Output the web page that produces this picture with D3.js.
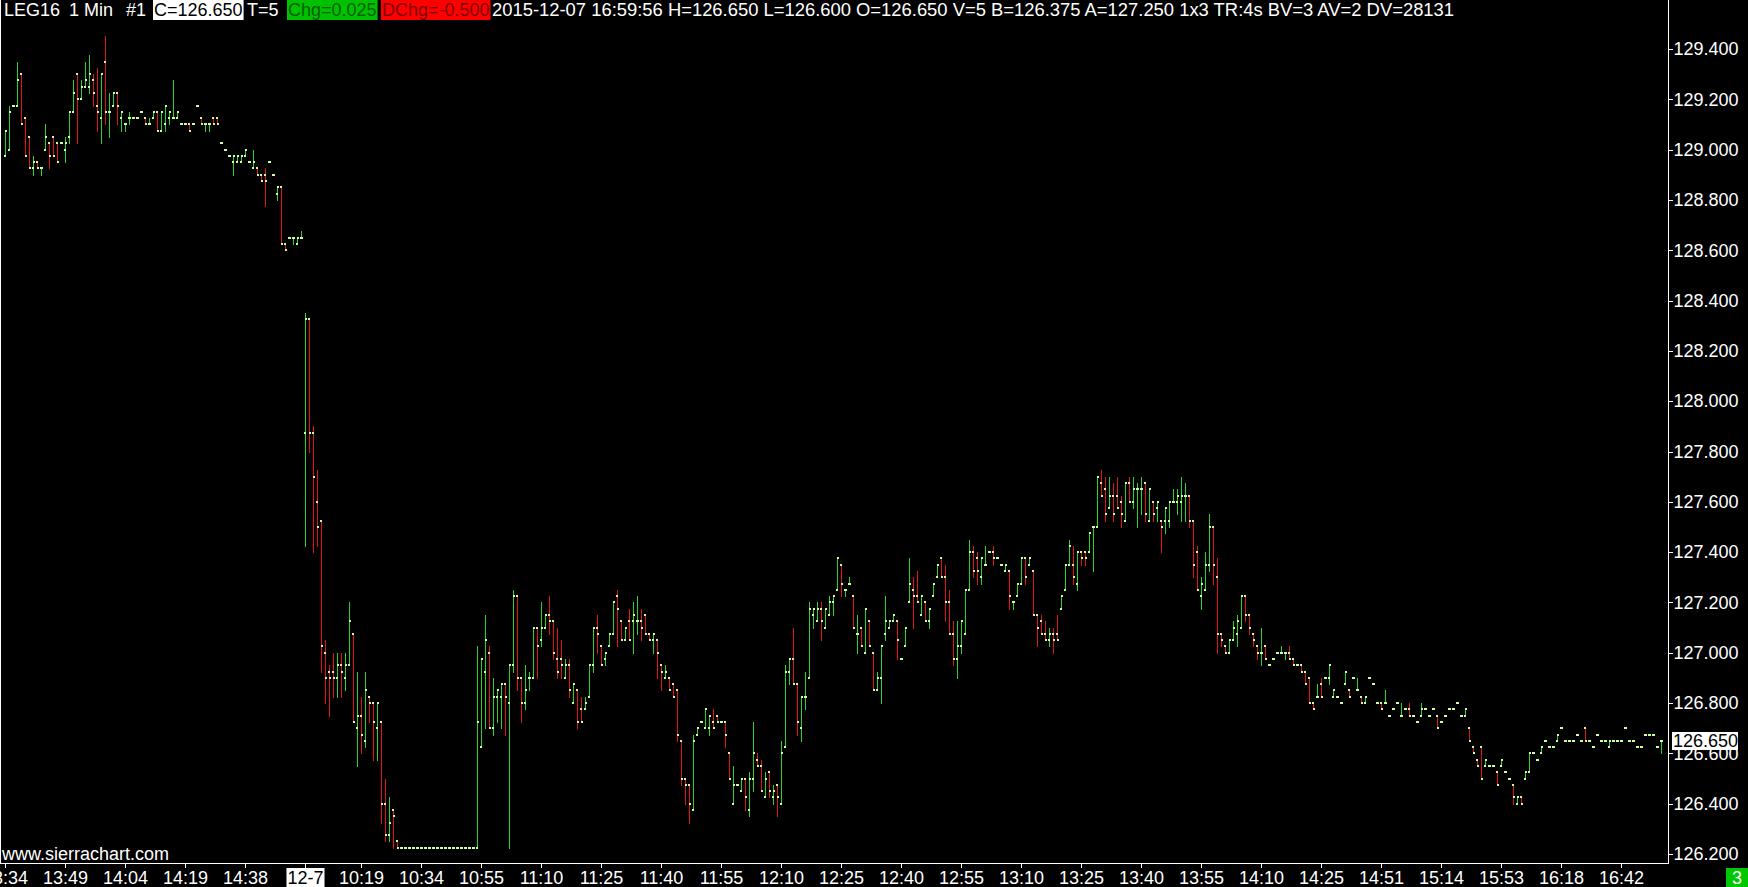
<!DOCTYPE html>
<html>
<head>
<meta charset="utf-8">
<script src="https://cdn.jsdelivr.net/npm/d3@7"></script>
<style>
  html, body { margin: 0; padding: 0; background: #000; }
  svg { display: block; }
  text { font-family: "Liberation Sans", Arial, sans-serif; font-size: 18px; }
</style>
</head>
<body>
<svg id="chart" width="1748" height="887"></svg>
<script>
// one-minute bars (tick size 0.025)
var opens = [
 128.975,129.0,129.175,129.175,129.3,129.125,129.05,128.925,128.95,128.925,129.0,129.025,129.05,129.025,129.025,
 129.0,129.05,129.15,129.3,129.2,129.25,129.25,129.275,129.175,129.125,129.35,129.15,129.175,129.225,129.125,
 129.1,129.125,129.125,129.125,129.15,129.125,129.1,129.125,129.15,129.075,129.1,129.125,129.125,129.125,129.1,
 129.1,129.1,129.1,129.175,129.125,129.1,129.1,129.125,129.125,129.025,129.0,128.975,128.95,128.95,128.95,
 128.975,128.95,128.925,128.925,128.9,128.9,128.95,128.9,128.825,128.85,128.625,128.65,128.65,128.625,128.65,
 127.875,128.325,127.875,127.6,127.525,127.0,126.925,126.925,126.9,126.95,126.9,126.95,127.075,126.7,126.75,
 126.65,126.825,126.8,126.7,126.725,126.4,126.275,126.375,126.25,126.225,126.225,126.225,126.225,126.225,126.225,
 126.225,126.225,126.225,126.225,126.225,126.225,126.225,126.225,126.225,126.225,126.225,126.225,126.225,126.225,126.625,
 126.925,127.0,126.7,126.825,126.825,126.875,126.8,126.95,127.225,126.9,126.8,126.9,126.9,127.1,127.05,
 127.1,127.15,127.125,126.975,126.975,126.9,126.95,126.8,126.85,126.775,126.775,126.825,126.95,127.1,127.025,
 126.975,127.025,127.075,127.225,127.125,127.05,127.125,127.125,127.125,127.125,127.15,127.075,127.05,127.05,126.95,
 126.9,126.9,126.875,126.85,126.65,126.5,126.475,126.375,126.675,126.725,126.7,126.7,126.725,126.75,126.725,
 126.725,126.6,126.4,126.475,126.45,126.5,126.375,126.5,126.575,126.55,126.425,126.525,126.425,126.475,126.4,
 126.625,126.925,126.975,126.875,126.7,126.825,126.9,127.15,127.125,127.175,127.1,127.15,127.2,127.25,127.35,
 127.25,127.275,127.225,127.075,127.1,127.0,127.125,127.0,126.85,126.9,127.075,127.1,127.125,127.125,126.975,
 127.025,127.2,127.25,127.225,127.15,127.2,127.125,127.225,127.3,127.375,127.3,127.2,127.075,126.975,127.025,
 127.075,127.25,127.4,127.375,127.3,127.35,127.4,127.4,127.375,127.35,127.325,127.325,127.2,127.225,127.275,
 127.375,127.35,127.325,127.15,127.125,127.075,127.05,127.075,127.075,127.175,127.25,127.35,127.35,127.275,127.4,
 127.4,127.4,127.5,127.5,127.675,127.65,127.575,127.625,127.625,127.6,127.525,127.675,127.6,127.65,127.65,
 127.675,127.525,127.6,127.575,127.525,127.525,127.525,127.6,127.6,127.6,127.625,127.625,127.525,127.4,127.225,
 127.25,127.35,127.5,127.3,127.075,127.025,127.0,127.05,127.075,127.1,127.225,127.15,127.075,127.025,127.0,
 127.025,126.95,126.975,127.0,127.0,127.0,127.0,126.975,126.95,126.95,126.925,126.9,126.8,126.825,126.875,
 126.9,126.9,126.825,126.825,126.8,126.875,126.85,126.9,126.85,126.825,126.8,126.9,126.875,126.8,126.8,
 126.8,126.75,126.775,126.8,126.75,126.775,126.775,126.75,126.725,126.75,126.775,126.75,126.775,126.75,126.725,
 126.75,126.775,126.775,126.8,126.75,126.75,126.7,126.625,126.575,126.625,126.55,126.55,126.55,126.525,126.55,
 126.525,126.5,126.475,126.4,126.425,126.5,126.525,126.6,126.575,126.6,126.65,126.625,126.625,126.65,126.7,
 126.65,126.65,126.65,126.675,126.65,126.7,126.65,126.625,126.675,126.65,126.65,126.625,126.65,126.65,126.65,
 126.7,126.65,126.65,126.625,126.625,126.675,126.675,126.675,126.625,126.65
];
var highs = [
 129.075,129.175,129.175,129.35,129.3,129.125,129.05,128.975,128.95,128.925,129.1,129.025,129.05,129.025,129.025,
 129.05,129.15,129.275,129.3,129.275,129.35,129.375,129.3,129.325,129.3,129.45,129.225,129.225,129.225,129.15,
 129.1,129.15,129.125,129.125,129.15,129.125,129.125,129.15,129.15,129.15,129.175,129.15,129.275,129.15,129.1,
 129.1,129.1,129.1,129.175,129.125,129.1,129.1,129.125,129.125,129.025,129.0,128.975,128.975,128.975,128.975,
 129.0,128.95,129.0,128.925,128.9,128.925,128.95,128.9,128.85,128.85,128.625,128.65,128.65,128.65,128.675,
 128.35,128.325,127.9,127.725,127.525,127.05,126.95,127.0,127.0,127.0,127.0,127.2,127.075,126.925,126.825,
 126.925,126.825,126.8,126.8,126.725,126.5,126.425,126.375,126.25,126.225,126.225,126.225,126.225,126.225,126.225,
 126.225,126.225,126.225,126.225,126.225,126.225,126.225,126.225,126.225,126.225,126.225,126.225,126.225,127.025,126.975,
 127.15,127.025,126.9,126.85,126.875,126.875,126.95,127.25,127.225,126.9,126.95,126.925,127.1,127.1,127.2,
 127.15,127.225,127.125,127.1,127.05,126.975,126.975,126.875,126.85,126.825,126.825,126.95,127.1,127.15,127.025,
 127.0,127.075,127.2,127.25,127.125,127.1,127.175,127.2,127.225,127.175,127.15,127.075,127.075,127.05,126.95,
 126.95,126.9,126.875,126.85,126.65,126.5,126.475,126.675,126.7,126.725,126.775,126.75,126.775,126.75,126.725,
 126.725,126.6,126.55,126.475,126.5,126.5,126.525,126.725,126.6,126.575,126.525,126.525,126.475,126.475,126.65,
 126.95,126.975,127.1,126.875,126.825,126.925,127.2,127.175,127.2,127.2,127.175,127.225,127.225,127.375,127.35,
 127.25,127.3,127.225,127.15,127.1,127.175,127.125,127.0,126.925,127.025,127.225,127.125,127.15,127.125,126.975,
 127.1,127.375,127.3,127.325,127.225,127.2,127.175,127.275,127.35,127.375,127.35,127.25,127.125,127.125,127.125,
 127.25,127.45,127.425,127.4,127.375,127.425,127.4,127.425,127.375,127.35,127.35,127.325,127.2,127.275,127.375,
 127.375,127.375,127.325,127.15,127.15,127.125,127.1,127.1,127.15,127.225,127.35,127.45,127.425,127.4,127.4,
 127.4,127.475,127.5,127.7,127.725,127.7,127.7,127.675,127.7,127.625,127.675,127.7,127.7,127.675,127.7,
 127.675,127.65,127.6,127.6,127.525,127.575,127.6,127.65,127.65,127.7,127.675,127.625,127.525,127.425,127.3,
 127.4,127.55,127.5,127.375,127.075,127.025,127.05,127.125,127.15,127.225,127.225,127.15,127.075,127.025,127.1,
 127.025,126.95,126.975,127.0,127.025,127.0,127.025,126.975,126.95,126.95,126.925,126.9,126.8,126.875,126.9,
 126.9,126.95,126.85,126.825,126.8,126.925,126.85,126.9,126.9,126.825,126.825,126.9,126.875,126.8,126.8,
 126.85,126.75,126.775,126.8,126.8,126.775,126.8,126.75,126.725,126.8,126.775,126.75,126.775,126.75,126.725,
 126.75,126.775,126.775,126.8,126.75,126.775,126.7,126.625,126.575,126.625,126.575,126.55,126.55,126.525,126.575,
 126.525,126.5,126.475,126.425,126.425,126.525,126.6,126.6,126.575,126.625,126.65,126.625,126.625,126.675,126.7,
 126.65,126.65,126.65,126.675,126.65,126.7,126.65,126.625,126.675,126.65,126.65,126.65,126.65,126.65,126.65,
 126.7,126.65,126.65,126.625,126.625,126.675,126.675,126.675,126.625,126.65
];
var lows = [
 128.975,129.0,129.175,129.175,129.1,128.975,128.925,128.9,128.925,128.9,129.0,128.925,128.975,128.95,129.025,
 128.95,129.025,129.15,129.025,129.2,129.25,129.225,129.175,129.075,129.025,129.1,129.05,129.175,129.1,129.075,
 129.075,129.1,129.125,129.125,129.15,129.1,129.1,129.125,129.075,129.075,129.075,129.1,129.125,129.125,129.1,
 129.1,129.075,129.1,129.175,129.1,129.075,129.075,129.1,129.1,129.025,129.0,128.975,128.9,128.95,128.95,
 128.975,128.95,128.925,128.9,128.875,128.775,128.95,128.9,128.8,128.625,128.6,128.65,128.625,128.625,128.65,
 127.425,127.8,127.4,127.425,126.925,126.8,126.75,126.825,126.825,126.825,126.85,126.95,126.725,126.55,126.6,
 126.625,126.725,126.575,126.575,126.325,126.25,126.25,126.225,126.225,126.225,126.225,126.225,126.225,126.225,126.225,
 126.225,126.225,126.225,126.225,126.225,126.225,126.225,126.225,126.225,126.225,126.225,126.225,126.225,126.225,126.625,
 126.7,126.7,126.675,126.725,126.7,126.675,126.225,126.925,126.85,126.725,126.775,126.85,126.9,126.9,127.025,
 127.1,127.075,126.975,126.9,126.9,126.9,126.825,126.8,126.7,126.725,126.775,126.825,126.925,127.0,126.95,
 126.95,127.025,127.075,127.025,127.05,127.05,127.05,127.0,127.075,127.05,127.075,127.05,127.0,126.9,126.85,
 126.9,126.85,126.825,126.65,126.475,126.4,126.325,126.375,126.675,126.725,126.7,126.675,126.7,126.725,126.725,
 126.625,126.5,126.4,126.475,126.45,126.375,126.35,126.45,126.55,126.45,126.425,126.425,126.4,126.35,126.4,
 126.625,126.875,126.875,126.675,126.65,126.775,126.9,127.1,127.125,127.05,127.1,127.15,127.15,127.25,127.225,
 127.225,127.275,127.1,127.0,127.025,127.0,127.025,126.85,126.85,126.8,127.05,127.1,127.125,126.975,126.975,
 127.025,127.2,127.1,127.2,127.15,127.125,127.1,127.225,127.3,127.3,127.125,127.075,126.95,126.9,127.0,
 127.075,127.25,127.3,127.275,127.275,127.35,127.4,127.35,127.375,127.35,127.325,127.175,127.175,127.225,127.275,
 127.275,127.35,127.15,127.025,127.075,127.05,127.025,127.0,127.05,127.175,127.25,127.35,127.275,127.25,127.35,
 127.35,127.4,127.325,127.5,127.625,127.525,127.575,127.525,127.575,127.5,127.525,127.6,127.575,127.5,127.55,
 127.525,127.525,127.525,127.525,127.4,127.475,127.5,127.6,127.55,127.525,127.525,127.5,127.3,127.25,127.175,
 127.25,127.325,127.275,127.0,127.025,127.0,127.0,127.05,127.025,127.1,127.125,127.075,127.025,126.975,126.95,
 126.975,126.95,126.975,127.0,127.0,126.975,126.975,126.95,126.95,126.925,126.875,126.8,126.775,126.825,126.825,
 126.9,126.875,126.825,126.825,126.8,126.875,126.825,126.9,126.85,126.8,126.8,126.9,126.875,126.8,126.775,
 126.8,126.75,126.775,126.8,126.75,126.775,126.75,126.75,126.725,126.75,126.775,126.75,126.775,126.7,126.725,
 126.75,126.775,126.775,126.8,126.75,126.75,126.65,126.6,126.55,126.5,126.55,126.55,126.55,126.475,126.55,
 126.525,126.5,126.4,126.4,126.4,126.5,126.525,126.6,126.575,126.6,126.65,126.625,126.625,126.65,126.7,
 126.65,126.65,126.65,126.675,126.65,126.65,126.65,126.625,126.675,126.65,126.65,126.625,126.65,126.65,126.65,
 126.7,126.65,126.65,126.625,126.625,126.675,126.675,126.675,126.625,126.6
];
var closes = [
 129.075,129.15,129.175,129.275,129.1,128.975,128.925,128.95,128.925,128.925,129.05,128.975,128.975,128.95,129.025,
 129.025,129.15,129.225,129.2,129.25,129.275,129.3,129.225,129.15,129.3,129.15,129.15,129.225,129.175,129.15,
 129.1,129.125,129.125,129.125,129.15,129.1,129.1,129.15,129.075,129.15,129.175,129.15,129.125,129.15,129.1,
 129.1,129.075,129.1,129.175,129.1,129.1,129.1,129.1,129.1,129.025,129.0,128.975,128.975,128.975,128.975,
 129.0,128.95,128.95,128.9,128.875,128.875,128.95,128.9,128.85,128.625,128.6,128.65,128.65,128.65,128.65,
 128.325,127.875,127.7,127.5,127.025,126.9,126.9,126.9,126.95,126.925,126.95,127.125,126.725,126.75,126.675,
 126.85,126.8,126.725,126.8,126.4,126.275,126.325,126.35,126.225,126.225,126.225,126.225,126.225,126.225,126.225,
 126.225,126.225,126.225,126.225,126.225,126.225,126.225,126.225,126.225,126.225,126.225,126.225,126.225,126.725,126.975,
 127.05,126.7,126.825,126.85,126.875,126.825,126.95,127.225,126.9,126.8,126.85,126.9,127.1,127.025,127.1,
 127.15,127.125,127.0,126.925,126.95,126.95,126.85,126.875,126.725,126.725,126.8,126.95,127.1,127.075,126.95,
 127.0,127.075,127.2,127.175,127.05,127.1,127.05,127.15,127.125,127.1,127.075,127.05,127.075,127.0,126.925,
 126.925,126.85,126.825,126.675,126.5,126.475,126.4,126.65,126.7,126.725,126.775,126.75,126.7,126.725,126.725,
 126.675,126.5,126.475,126.475,126.5,126.425,126.5,126.6,126.55,126.45,126.5,126.45,126.45,126.425,126.6,
 126.925,126.975,126.875,126.725,126.825,126.825,127.175,127.175,127.175,127.125,127.175,127.2,127.225,127.375,127.275,
 127.25,127.275,127.1,127.075,127.025,127.175,127.025,126.85,126.9,127.025,127.125,127.125,127.15,127.05,126.975,
 127.1,127.275,127.225,127.2,127.225,127.125,127.175,127.275,127.35,127.3,127.2,127.075,126.975,127.025,127.125,
 127.25,127.4,127.325,127.325,127.375,127.35,127.4,127.375,127.375,127.35,127.35,127.225,127.2,127.275,127.375,
 127.3,127.375,127.15,127.1,127.075,127.05,127.075,127.05,127.05,127.225,127.35,127.425,127.3,127.4,127.375,
 127.375,127.475,127.5,127.7,127.625,127.55,127.625,127.55,127.575,127.55,127.675,127.6,127.65,127.65,127.65,
 127.55,127.65,127.55,127.6,127.5,127.575,127.6,127.6,127.625,127.625,127.625,127.525,127.35,127.25,127.275,
 127.35,127.5,127.35,127.075,127.05,127.0,127.05,127.1,127.125,127.225,127.15,127.1,127.05,127.0,127.0,
 126.975,126.95,126.975,127.0,127.0,127.0,126.975,126.95,126.95,126.925,126.875,126.8,126.775,126.825,126.825,
 126.9,126.95,126.85,126.825,126.8,126.925,126.825,126.9,126.85,126.8,126.825,126.9,126.875,126.8,126.775,
 126.8,126.75,126.775,126.8,126.75,126.775,126.75,126.75,126.725,126.775,126.775,126.75,126.775,126.7,126.725,
 126.75,126.775,126.775,126.8,126.75,126.775,126.65,126.6,126.55,126.5,126.575,126.55,126.55,126.475,126.575,
 126.525,126.5,126.425,126.425,126.4,126.525,126.6,126.6,126.575,126.625,126.65,126.625,126.625,126.675,126.7,
 126.65,126.65,126.65,126.675,126.65,126.65,126.65,126.625,126.675,126.65,126.65,126.65,126.65,126.65,126.65,
 126.7,126.65,126.65,126.625,126.625,126.675,126.675,126.675,126.625,126.65
];

// time axis labels, one every 15 bars (the session break shifts by one)
var timeTickBars = [0,15,30,45,60,75,89,104,119,134,149,164,179,194,209,224,239,254,269,284,299,314,329,344,359,374,389,404];
var timeTickLabels = ["13:34","13:49","14:04","14:19","14:38","12-7","10:19","10:34","10:55","11:10","11:25","11:40","11:55","12:10",
  "12:25","12:40","12:55","13:10","13:25","13:40","13:55","14:10","14:25","14:51","15:14","15:53","16:18","16:42"];
var priceTicks = [126.2,126.4,126.6,126.8,127.0,127.2,127.4,127.6,127.8,128.0,128.2,128.4,128.6,128.8,129.0,129.2,129.4];
var lastPrice = 126.65;

var headerParts = ["LEG16", "1 Min", "#1", "C=126.650", "T=5", "Chg=0.025", "DChg=-0.500",
  "2015-12-07 16:59:56 H=126.650 L=126.600 O=126.650 V=5 B=126.375 A=127.250 1x3 TR:4s BV=3 AV=2 DV=28131"];
var headerX = [4, 69, 126, 154, 247, 288, 382, 492];
var headerSize = [18, 18, 18, 18, 18, 18, 18, 18.4];
var headerBg = [null, null, null, "#ffffff", null, "#00c000", "#ff0000", null];
var headerFg = ["#fff", "#fff", "#fff", "#000", "#fff", "#006000", "#800000", "#fff"];

var upColor = "#2ad22a", downColor = "#e01414", tickColor = "#ccff99";
var plotRight = 1668, plotBottom = 863;

var svg = d3.select("#chart");
svg.append("rect").attr("width", 1748).attr("height", 887).attr("fill", "#000");

var n = closes.length;
var x = d3.scaleLinear().domain([0, n - 1]).range([5, 5 + 4 * (n - 1)]);
var y = d3.scaleLinear().domain([126.2, 129.4]).range([854, 49]);

var bars = svg.append("g").attr("shape-rendering", "crispEdges");
var idx = d3.range(n);

// high-low lines
bars.selectAll("rect.hl").data(idx).join("rect")
  .attr("class", "hl")
  .attr("x", function(i) { return Math.round(x(i)); })
  .attr("y", function(i) { return Math.round(y(highs[i])); })
  .attr("width", 1)
  .attr("height", function(i) { return Math.max(1, Math.round(y(lows[i])) - Math.round(y(highs[i])) + 1); })
  .attr("fill", function(i) { return closes[i] >= opens[i] ? upColor : downColor; });

// open and close marks
bars.selectAll("rect.op").data(idx).join("rect")
  .attr("class", "op")
  .attr("x", function(i) { return Math.round(x(i)) - 1; })
  .attr("y", function(i) { return Math.round(y(opens[i])) - 1; })
  .attr("width", 2).attr("height", 2)
  .attr("fill", tickColor);
bars.selectAll("rect.cl").data(idx).join("rect")
  .attr("class", "cl")
  .attr("x", function(i) { return Math.round(x(i)); })
  .attr("y", function(i) { return Math.round(y(closes[i])) - 1; })
  .attr("width", 2).attr("height", 2)
  .attr("fill", tickColor);

// frame
var frame = svg.append("g").attr("stroke", "#fff").attr("shape-rendering", "crispEdges");
frame.append("line").attr("x1", 0.5).attr("x2", 0.5).attr("y1", 0).attr("y2", plotBottom);
frame.append("line").attr("x1", plotRight + 0.5).attr("x2", plotRight + 0.5).attr("y1", 0).attr("y2", plotBottom + 1);
frame.append("line").attr("x1", 0).attr("x2", plotRight + 1).attr("y1", plotBottom + 0.5).attr("y2", plotBottom + 0.5);

// price axis
var yAxis = d3.axisRight(y).tickValues(priceTicks).tickFormat(d3.format(".3f"))
  .tickSize(4).tickPadding(1).tickSizeOuter(0);
var gy = svg.append("g").attr("transform", "translate(" + (plotRight + 0.5) + ",0)").call(yAxis);
gy.select(".domain").remove();
gy.selectAll("line").attr("stroke", "#fff").attr("shape-rendering", "crispEdges");
gy.selectAll("text").attr("fill", "#fff").style("font-size", "18px")
  .style("font-family", '"Liberation Sans", Arial, sans-serif');

// time axis
var xAxis = d3.axisBottom(x).tickValues(timeTickBars)
  .tickFormat(function(d, i) { return timeTickLabels[i]; })
  .tickSize(4).tickPadding(4).tickSizeOuter(0);
var gx = svg.append("g").attr("transform", "translate(0," + (plotBottom + 0.5) + ")").call(xAxis);
gx.select(".domain").remove();
gx.selectAll("line").attr("stroke", "#fff").attr("shape-rendering", "crispEdges");
gx.selectAll("text").attr("fill", "#fff").style("font-size", "18px")
  .style("font-family", '"Liberation Sans", Arial, sans-serif');

// session-start label drawn inverted
gx.selectAll(".tick").filter(function(d, i) { return timeTickLabels[i] === "12-7"; })
  .each(function() {
    var t = d3.select(this).select("text");
    var bb = t.node().getBBox();
    d3.select(this).insert("rect", "text")
      .attr("x", bb.x - 1).attr("y", 4.5).attr("width", bb.width + 2).attr("height", 19)
      .attr("fill", "#fff");
    t.attr("fill", "#000");
  });

// last price marker
var lp = svg.append("g");
lp.append("rect").attr("x", plotRight + 4).attr("y", Math.round(y(lastPrice)) - 9)
  .attr("width", 66).attr("height", 18).attr("fill", "#fff");
lp.append("text").attr("x", plotRight + 5).attr("y", y(lastPrice)).attr("dy", "0.35em")
  .attr("fill", "#000").text(d3.format(".3f")(lastPrice));

// bottom-right counter box
svg.append("rect").attr("x", 1726).attr("y", 868).attr("width", 22).attr("height", 19).attr("fill", "#00c800");
svg.append("text").attr("x", 1737).attr("y", 884).attr("text-anchor", "middle").attr("fill", "#fff").text("3");

// watermark
svg.append("text").attr("x", 2).attr("y", 860).attr("fill", "#fff").text("www.sierrachart.com");

// header line
var hdr = svg.append("g");
headerParts.forEach(function(s, k) {
  var t = hdr.append("text").attr("x", headerX[k]).attr("y", 16).attr("fill", headerFg[k])
    .style("font-size", headerSize[k] + "px").text(s);
  if (headerBg[k]) {
    var w = t.node().getComputedTextLength();
    hdr.insert("rect", "text").attr("x", headerX[k] - 1).attr("y", 0)
      .attr("width", w + 2).attr("height", 20).attr("fill", headerBg[k]);
  }
});
</script>
</body>
</html>
